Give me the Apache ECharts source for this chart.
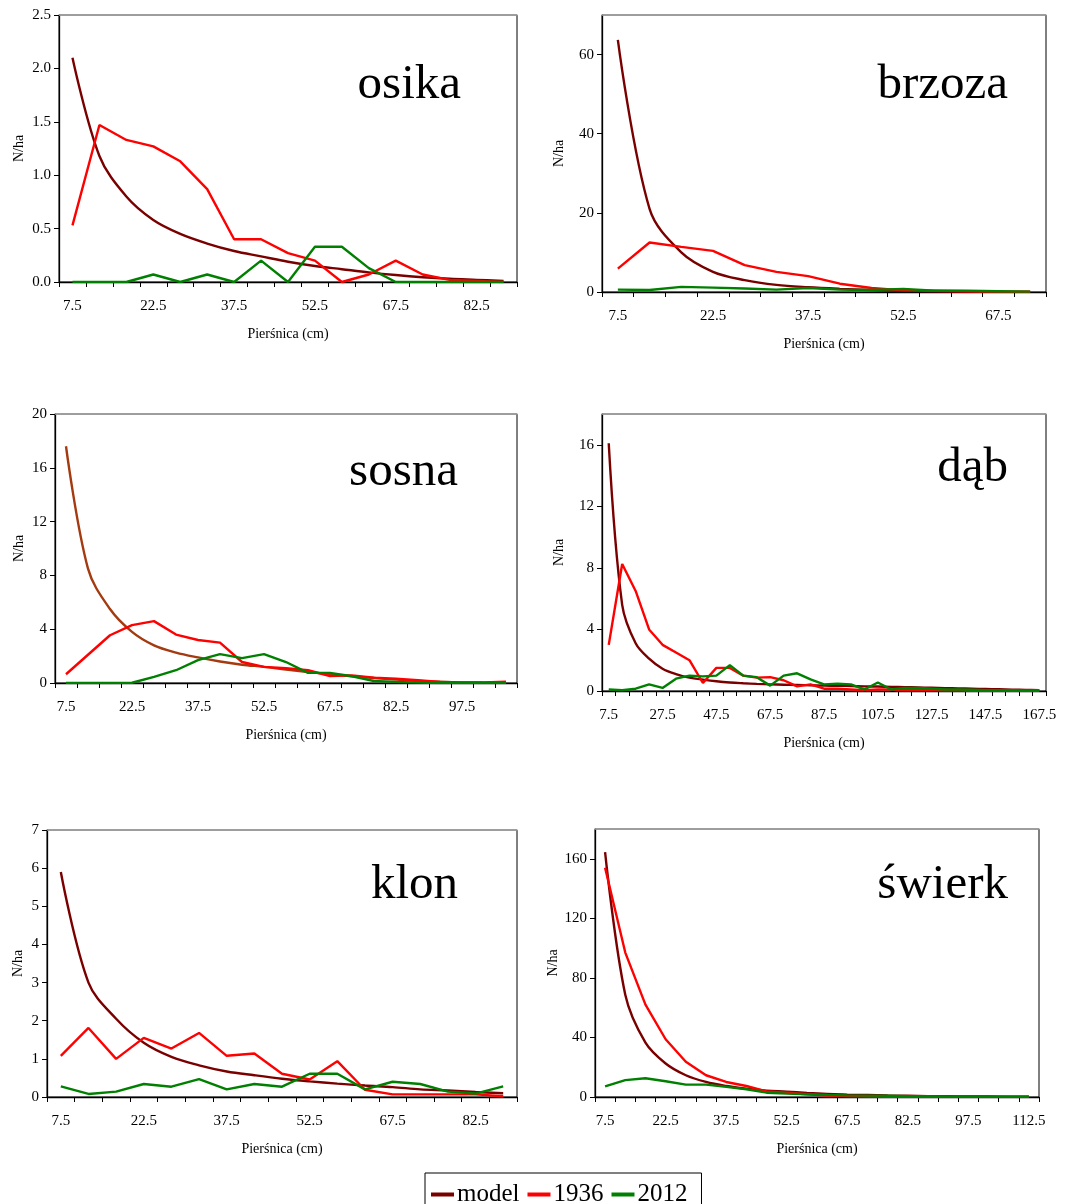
<!DOCTYPE html>
<html>
<head>
<meta charset="utf-8">
<script src="https://cdn.jsdelivr.net/npm/echarts@6/dist/echarts.min.js"></script>
<style>
  html, body { margin: 0; padding: 0; background: #fff; }
  #chart { width: 1083px; height: 1204px; }
</style>
</head>
<body>
<div id="chart"></div>
<script>
// Diameter classes (cm) per species
const dbhOsika  = ['7.5','12.5','17.5','22.5','27.5','32.5','37.5','42.5','47.5','52.5','57.5','62.5','67.5','72.5','77.5','82.5','87.5'];
const dbhBrzoza = ['7.5','12.5','17.5','22.5','27.5','32.5','37.5','42.5','47.5','52.5','57.5','62.5','67.5','72.5'];
const dbhSosna  = ['7.5','12.5','17.5','22.5','27.5','32.5','37.5','42.5','47.5','52.5','57.5','62.5','67.5','72.5','77.5','82.5','87.5','92.5','97.5','102.5','107.5'];
const dbhDab    = ['7.5','12.5','17.5','22.5','27.5','32.5','37.5','42.5','47.5','52.5','57.5','62.5','67.5','72.5','77.5','82.5','87.5','92.5','97.5','102.5','107.5','112.5','117.5','122.5','127.5','132.5','137.5','142.5','147.5','152.5','157.5','162.5','167.5'];
const dbhKlon   = ['7.5','12.5','17.5','22.5','27.5','32.5','37.5','42.5','47.5','52.5','57.5','62.5','67.5','72.5','77.5','82.5','87.5'];
const dbhSwierk = ['7.5','12.5','17.5','22.5','27.5','32.5','37.5','42.5','47.5','52.5','57.5','62.5','67.5','72.5','77.5','82.5','87.5','92.5','97.5','102.5','107.5','112.5'];

// Trees per hectare: model, 1936 inventory, 2012 inventory
const osikaModel = [2.10,1.18,0.80,0.58,0.45,0.36,0.29,0.24,0.19,0.15,0.12,0.09,0.065,0.045,0.03,0.02,0.01];
const osika1936  = [0.53,1.47,1.33,1.27,1.13,0.87,0.40,0.40,0.27,0.20,0.00,0.07,0.20,0.07,0.02,0.01,0.00];
const osika2012  = [0,0,0,0.07,0,0.07,0,0.20,0,0.33,0.33,0.13,0,0,0,0,0];

const brzozaModel = [63.7,21.0,10.0,5.1,3.0,1.8,1.2,0.8,0.5,0.3,0.2,0.1,0.05,0.03];
const brzoza1936  = [5.9,12.5,11.4,10.4,6.8,5.1,4.0,2.1,1.0,0.4,0.3,0.2,0.1,0.05];
const brzoza2012  = [0.6,0.5,1.3,1.1,0.9,0.6,1.0,0.6,0.5,0.8,0.3,0.3,0.2,0.1];

const sosnaModel = [17.6,8.5,5.5,3.8,2.8,2.26,1.9,1.6,1.36,1.2,1.0,0.82,0.65,0.5,0.37,0.25,0.15,0.1,0.05,0.03,0.02];
const sosna1936  = [0.65,2.1,3.55,4.3,4.6,3.6,3.2,3.0,1.56,1.2,1.1,0.95,0.52,0.57,0.4,0.32,0.2,0.07,0.05,0.05,0.1];
const sosna2012  = [0,0,0,0.02,0.45,0.95,1.7,2.15,1.85,2.15,1.56,0.75,0.75,0.5,0.15,0.08,0.03,0,0,0,0];

const dabModel = [16.1,5.6,3.1,2.1,1.45,1.1,0.87,0.74,0.63,0.55,0.5,0.46,0.43,0.41,0.39,0.37,0.35,0.34,0.32,0.3,0.29,0.27,0.25,0.23,0.21,0.19,0.17,0.15,0.13,0.11,0.09,0.07,0.05];
const dab1936  = [3.0,8.25,6.5,4.0,3.0,2.5,2.0,0.52,1.5,1.5,1.0,0.87,0.9,0.7,0.3,0.43,0.15,0.15,0.1,0.05,0.1,0.1,0.05,0.05,0.05,0.03,0.03,0.02,0.02,0.02,0.01,0.01,0.01];
const dab2012  = [0.1,0.05,0.15,0.43,0.2,0.8,1.0,0.95,1.0,1.68,1.0,0.9,0.35,1.0,1.15,0.75,0.43,0.48,0.43,0.1,0.55,0.1,0.2,0.2,0.15,0.1,0.1,0.08,0.05,0.05,0.05,0.03,0.05];

const klonModel = [5.9,3.0,2.05,1.42,1.05,0.83,0.67,0.57,0.48,0.41,0.35,0.3,0.26,0.2,0.17,0.13,0.1];
const klon1936  = [1.08,1.81,1.0,1.55,1.27,1.68,1.08,1.14,0.61,0.46,0.94,0.19,0.07,0.07,0.07,0.07,0.02];
const klon2012  = [0.28,0.08,0.14,0.34,0.27,0.47,0.2,0.34,0.27,0.61,0.61,0.2,0.4,0.34,0.14,0.09,0.28];

const swierkModel = [164.5,68.7,36.5,22.5,14.6,10.1,7.4,5.6,4.3,3.6,2.7,2.0,1.6,1.3,1.0,0.8,0.6,0.5,0.4,0.3,0.2,0.15];
const swierk1936  = [154,97,62,38.8,23.7,14.6,10.1,7.4,3.8,2.9,1.8,0.9,0.5,0.3,0.2,0.2,0.1,0.1,0.1,0.1,0.1,0.1];
const swierk2012  = [7.2,11.3,12.6,10.6,8.3,8.3,6.8,5.2,2.9,2.3,1.8,1.4,1.1,0.9,0.8,0.6,0.5,0.4,0.3,0.3,0.2,0.2];

// Y axis scales (the top of some axes sits above the last labelled tick)
const yOsika  = { max: 2.5, interval: 0.5, decimals: 1, labelMax: true };
const yBrzoza = { max: 70,  interval: 20,  decimals: 0, labelMax: false };
const ySosna  = { max: 20,  interval: 4,   decimals: 0, labelMax: true };
const yDab    = { max: 18,  interval: 4,   decimals: 0, labelMax: false };
const yKlon   = { max: 7,   interval: 1,   decimals: 0, labelMax: true };
const ySwierk = { max: 180, interval: 40,  decimals: 0, labelMax: false };

const SERIF = '"Liberation Serif", "Times New Roman", serif';
const C_MODEL = '#7a0000', C_1936 = '#ff0000', C_2012 = '#008000';

const panels = [
  { name: 'osika',  cats: dbhOsika,  model: osikaModel,  y1936: osika1936,  y2012: osika2012,  y: yOsika,
    grid: { left: 59,  top: 15,  width: 458, height: 267 }, labelEvery: 2, nameGap: 33, title: { right: 617, top: 56 }, modelColor: C_MODEL },
  { name: 'brzoza', cats: dbhBrzoza, model: brzozaModel, y1936: brzoza1936, y2012: brzoza2012, y: yBrzoza,
    grid: { left: 602, top: 15,  width: 444, height: 277 }, labelEvery: 2, nameGap: 36, title: { right: 70,  top: 56 }, modelColor: C_MODEL },
  { name: 'sosna',  cats: dbhSosna,  model: sosnaModel,  y1936: sosna1936,  y2012: sosna2012,  y: ySosna,
    grid: { left: 55,  top: 414, width: 462, height: 269 }, labelEvery: 2, nameGap: 29, title: { right: 620, top: 443 }, modelColor: '#a33a10' },
  { name: 'dąb',    cats: dbhDab,    model: dabModel,    y1936: dab1936,    y2012: dab2012,    y: yDab,
    grid: { left: 602, top: 414, width: 444, height: 277 }, labelEvery: 3, nameGap: 36, title: { right: 70,  top: 439 }, modelColor: C_MODEL },
  { name: 'klon',   cats: dbhKlon,   model: klonModel,   y1936: klon1936,   y2012: klon2012,   y: yKlon,
    grid: { left: 47,  top: 830, width: 470, height: 267 }, labelEvery: 2, nameGap: 22, title: { right: 620, top: 856 }, modelColor: C_MODEL },
  { name: 'świerk', cats: dbhSwierk, model: swierkModel, y1936: swierk1936, y2012: swierk2012, y: ySwierk,
    grid: { left: 595, top: 829, width: 444, height: 268 }, labelEvery: 2, nameGap: 34, title: { right: 70,  top: 856 }, modelColor: C_MODEL }
];

const grids = [], xAxes = [], yAxes = [], series = [], titles = [];
const axisText = { fontFamily: SERIF, fontSize: 15, color: '#000' };

panels.forEach((p, i) => {
  grids.push(Object.assign({ show: true, borderColor: '#000', borderWidth: 1, containLabel: false }, p.grid));
  xAxes.push({
    type: 'category', gridIndex: i, data: p.cats, boundaryGap: true,
    name: 'Pierśnica (cm)', nameLocation: 'middle', nameGap: 45,
    nameTextStyle: { fontFamily: SERIF, fontSize: 14, color: '#000' },
    axisLine: { lineStyle: { color: '#000', width: 1.3 } },
    axisTick: { show: true, interval: 0, length: 5, lineStyle: { color: '#000' } },
    axisLabel: Object.assign({ interval: p.labelEvery, margin: 17 }, axisText),
    splitLine: { show: false }
  });
  yAxes.push({
    type: 'value', gridIndex: i, min: 0, max: p.y.max, interval: p.y.interval,
    name: 'N/ha', nameLocation: 'middle', nameGap: p.nameGap, nameRotate: 90,
    nameTextStyle: { fontFamily: SERIF, fontSize: 14, color: '#000' },
    axisLine: { show: true, lineStyle: { color: '#000', width: 1.3 } },
    axisTick: { show: true, length: 5, lineStyle: { color: '#000' } },
    axisLabel: Object.assign({
      showMaxLabel: p.y.labelMax, margin: 8,
      formatter: (v) => v.toFixed(p.y.decimals)
    }, axisText),
    splitLine: { show: false }
  });
  titles.push({
    text: p.name, right: p.title.right, top: p.title.top,
    textStyle: { fontFamily: SERIF, fontSize: 49, fontWeight: 'normal', color: '#000' }
  });
  const common = { type: 'line', xAxisIndex: i, yAxisIndex: i, symbol: 'none', z: 3 };
  series.push(Object.assign({}, common, { name: 'model', data: p.model, smooth: 0.35,
    lineStyle: { color: p.modelColor, width: 2.4 }, itemStyle: { color: C_MODEL } }));
  series.push(Object.assign({}, common, { name: '1936', data: p.y1936,
    lineStyle: { color: C_1936, width: 2.4 }, itemStyle: { color: C_1936 } }));
  series.push(Object.assign({}, common, { name: '2012', data: p.y2012,
    lineStyle: { color: C_2012, width: 2.4 }, itemStyle: { color: C_2012 } }));
});

// light grey top edge of each plot frame
panels.forEach((p, i) => {
  xAxes.push({
    type: 'category', gridIndex: i, position: 'top', data: p.cats,
    axisLine: { show: true, lineStyle: { color: '#a8a8a8', width: 1.5 } },
    axisTick: { show: false }, axisLabel: { show: false }, splitLine: { show: false }
  });
});

const chart = echarts.init(document.getElementById('chart'), null, { renderer: 'canvas' });
chart.setOption({
  animation: false,
  backgroundColor: '#fff',
  title: titles,
  grid: grids,
  xAxis: xAxes,
  yAxis: yAxes,
  legend: {
    data: ['model', '1936', '2012'],
    left: 425, top: 1173,
    orient: 'horizontal',
    borderColor: '#000', borderWidth: 1,
    padding: [9, 14, 4, 6],
    icon: 'rect',
    itemGap: 8, itemWidth: 23, itemHeight: 4,
    textStyle: { fontFamily: SERIF, fontSize: 25, color: '#000', padding: [0, 0, 0, -2] }
  },
  series: series
});
</script>
</body>
</html>
